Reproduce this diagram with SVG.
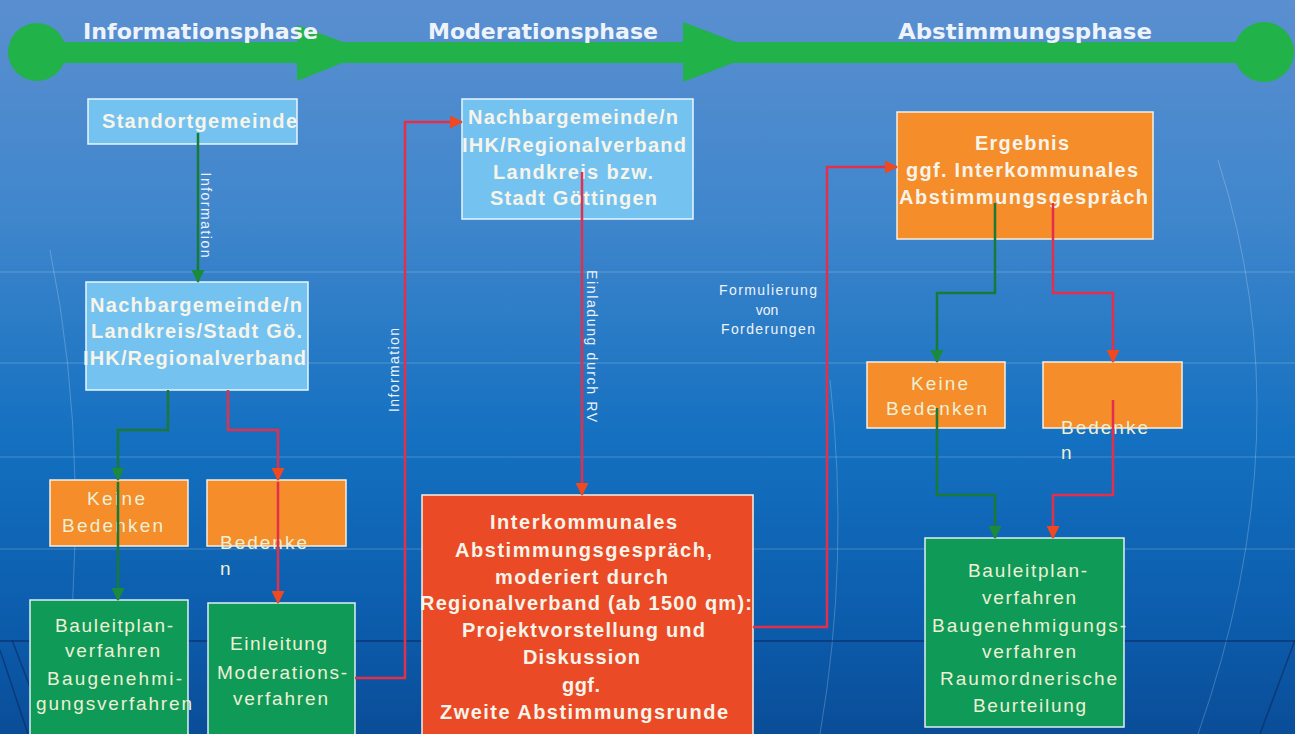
<svg xmlns="http://www.w3.org/2000/svg" width="1295" height="734" viewBox="0 0 1295 734">
<defs>
<linearGradient id="bg" x1="0" y1="0" x2="0" y2="1">
<stop offset="0" stop-color="#5a8fd0"/>
<stop offset="0.3" stop-color="#3f86cc"/>
<stop offset="0.6" stop-color="#1470c0"/>
<stop offset="0.85" stop-color="#0c5cac"/>
<stop offset="1" stop-color="#0a4d98"/>
</linearGradient>
<marker id="ag" viewBox="0 0 12 12" refX="11" refY="6" markerWidth="13" markerHeight="13" markerUnits="userSpaceOnUse" orient="auto">
<path d="M0,0 L12,6 L0,12 Z" fill="#1b8a3a"/>
</marker>
<marker id="ar" viewBox="0 0 12 12" refX="11" refY="6" markerWidth="13" markerHeight="13" markerUnits="userSpaceOnUse" orient="auto">
<path d="M0,0 L12,6 L0,12 Z" fill="#f0481f"/>
</marker>
</defs>
<style>
.phase{font-family:"DejaVu Sans",sans-serif;font-weight:bold;font-size:22px;fill:#eef3fa;text-anchor:middle}
.blue{fill:#74c2f0;stroke:#e8f6ff;stroke-width:1.5}
.orange{fill:#f48d2a;stroke:#f6efe2;stroke-width:1.5}
.red{fill:#ea4a25;stroke:#f6efe2;stroke-width:1.5}
.green{fill:#0f9a58;stroke:#e0f0f0;stroke-width:1.5}
.bt{font-family:"Liberation Sans",Arial,sans-serif;font-weight:bold;font-size:20px;fill:#f7f4ea;text-anchor:middle}
.nt{font-family:"Liberation Sans",Arial,sans-serif;font-size:19px;fill:#eef0d6;text-anchor:middle}
.nl{font-family:"Liberation Sans",Arial,sans-serif;font-size:19px;fill:#eef0d6}
.lab{font-family:"Liberation Sans",Arial,sans-serif;font-size:14px;fill:#eef3fa;text-anchor:middle}
.cg{fill:none;stroke:#187a36;stroke-width:2.5}
.cr{fill:none;stroke:#e2304c;stroke-width:2.5}
.grid{stroke:#ffffff;stroke-opacity:0.22;stroke-width:1;fill:none}
</style>
<rect width="1295" height="734" fill="url(#bg)"/>
<g id="backdrop">
<path class="grid" d="M0,272 H1295 M0,363 H1295 M0,457 H1295 M0,549 H1295"/>
<path class="grid" d="M1218,160 Q1305,430 1198,734"/>
<path class="grid" d="M50,250 Q95,470 60,734"/>
<path class="grid" d="M830,380 Q850,560 820,734"/>
<path d="M0,641 H1295" stroke="#0a2a62" stroke-opacity="0.7" stroke-width="1.5"/>
<path d="M0,650 L28,734 M12,640 L48,734" stroke="#0a2a62" stroke-opacity="0.6" stroke-width="1.5" fill="none"/>
<path d="M1295,640 L1260,734" stroke="#0a2a62" stroke-opacity="0.6" stroke-width="1.5" fill="none"/>
</g>
<g id="timeline">
<rect x="35" y="42" width="1230" height="21" fill="#22b24a"/>
<circle cx="37" cy="52" r="29" fill="#22b24a"/>
<circle cx="1264" cy="52" r="30" fill="#22b24a"/>
<polygon points="297,25 370,52 297,81" fill="#22b24a"/>
<polygon points="683,22 762,52 683,82" fill="#22b24a"/>
<text class="phase" x="200.5" y="39" textLength="235" lengthAdjust="spacingAndGlyphs">Informationsphase</text>
<text class="phase" x="543" y="39" textLength="230" lengthAdjust="spacingAndGlyphs">Moderationsphase</text>
<text class="phase" x="1025" y="39" textLength="254" lengthAdjust="spacingAndGlyphs">Abstimmungsphase</text>
</g>
<g id="n-standort">
<rect class="blue" x="88" y="99" width="209" height="45"/>
<text class="bt" x="199.5" y="128" textLength="195">Standortgemeinde</text>
</g>
<g id="n-nachbar1">
<rect class="blue" x="86" y="282" width="222" height="108"/>
<text class="bt" x="196" y="312" textLength="212">Nachbargemeinde/n</text>
<text class="bt" x="196.5" y="338" textLength="211">Landkreis/Stadt Gö.</text>
<text class="bt" x="194.5" y="365" textLength="223">IHK/Regionalverband</text>
</g>
<g id="n-keine1">
<rect class="orange" x="50" y="480" width="138" height="66"/>
<text class="nt" x="116" y="505" textLength="58">Keine</text>
<text class="nt" x="112.5" y="532" textLength="101">Bedenken</text>
</g>
<g id="n-bedenken1">
<rect class="orange" x="207" y="480" width="139" height="66"/>
<text class="nl" x="220" y="549" textLength="87">Bedenke</text>
<text class="nl" x="220" y="575">n</text>
</g>
<g id="n-bauleit1">
<rect class="green" x="30" y="600" width="158" height="140"/>
<text class="nt" x="114" y="632" textLength="118">Bauleitplan-</text>
<text class="nt" x="112.5" y="657" textLength="95">verfahren</text>
<text class="nt" x="114.5" y="685" textLength="135">Baugenehmi-</text>
<text class="nt" x="114" y="710" textLength="156">gungsverfahren</text>
</g>
<g id="n-einleitung">
<rect class="green" x="208" y="603" width="147" height="140"/>
<text class="nt" x="278.5" y="650" textLength="97">Einleitung</text>
<text class="nt" x="282" y="679" textLength="130">Moderations-</text>
<text class="nt" x="280.5" y="705" textLength="95">verfahren</text>
</g>
<g id="n-nachbar2">
<rect class="blue" x="462" y="99" width="231" height="120"/>
<text class="bt" x="573" y="124" textLength="210">Nachbargemeinde/n</text>
<text class="bt" x="574" y="152" textLength="224">IHK/Regionalverband</text>
<text class="bt" x="573" y="179" textLength="160">Landkreis bzw.</text>
<text class="bt" x="573.5" y="205" textLength="167">Stadt Göttingen</text>
</g>
<g id="n-gespraech">
<rect class="red" x="422" y="495" width="331" height="245"/>
<text class="bt" x="583.5" y="529" textLength="187">Interkommunales</text>
<text class="bt" x="583.5" y="557" textLength="257">Abstimmungsgespräch,</text>
<text class="bt" x="581.5" y="584" textLength="173">moderiert durch</text>
<text class="bt" x="586" y="610" textLength="332">Regionalverband (ab 1500 qm):</text>
<text class="bt" x="583.5" y="637" textLength="243">Projektvorstellung und</text>
<text class="bt" x="581.5" y="664" textLength="117">Diskussion</text>
<text class="bt" x="581" y="692" textLength="38">ggf.</text>
<text class="bt" x="584" y="719" textLength="288">Zweite Abstimmungsrunde</text>
</g>
<g id="n-ergebnis">
<rect class="orange" x="897" y="112" width="256" height="127"/>
<text class="bt" x="1022" y="150" textLength="94">Ergebnis</text>
<text class="bt" x="1022" y="177" textLength="232">ggf. Interkommunales</text>
<text class="bt" x="1023.5" y="204" textLength="249">Abstimmungsgespräch</text>
</g>
<g id="n-keine2">
<rect class="orange" x="867" y="362" width="138" height="66"/>
<text class="nt" x="939.5" y="390" textLength="57">Keine</text>
<text class="nt" x="936.5" y="415" textLength="101">Bedenken</text>
</g>
<g id="n-bedenken2">
<rect class="orange" x="1043" y="362" width="139" height="66"/>
<text class="nl" x="1061" y="434" textLength="87">Bedenke</text>
<text class="nl" x="1061" y="459">n</text>
</g>
<g id="n-bauleit2">
<rect class="green" x="925" y="538" width="199" height="189"/>
<text class="nt" x="1027.5" y="577" textLength="119">Bauleitplan-</text>
<text class="nt" x="1029" y="604" textLength="94">verfahren</text>
<text class="nt" x="1029" y="632" textLength="194">Baugenehmigungs-</text>
<text class="nt" x="1029" y="658" textLength="94">verfahren</text>
<text class="nt" x="1028.5" y="685" textLength="177">Raumordnerische</text>
<text class="nt" x="1029.5" y="712" textLength="113">Beurteilung</text>
</g>
<g id="connectors">
<path class="cg" d="M198,133 V282" marker-end="url(#ag)"/>
<path class="cg" d="M168,390 V430 H118 V480" marker-end="url(#ag)"/>
<path class="cr" d="M228,390 V430 H278 V480" marker-end="url(#ar)"/>
<path class="cg" d="M118,482 V600" marker-end="url(#ag)"/>
<path class="cr" d="M278,482 V603" marker-end="url(#ar)"/>
<path class="cr" d="M355,678 H405 V122 H462" marker-end="url(#ar)"/>
<path class="cr" d="M582,172 V495" marker-end="url(#ar)"/>
<path class="cr" d="M753,627 H827 V167 H897" marker-end="url(#ar)"/>
<path class="cg" d="M995,203 V293 H937 V362" marker-end="url(#ag)"/>
<path class="cr" d="M1053,203 V293 H1113 V362" marker-end="url(#ar)"/>
<path class="cg" d="M937,408 V495 H995 V538" marker-end="url(#ag)"/>
<path class="cr" d="M1113,400 V495 H1053 V538" marker-end="url(#ar)"/>
<text class="lab" transform="translate(201,215) rotate(90)" textLength="85">Information</text>
<text class="lab" transform="translate(399,370) rotate(-90)" textLength="84">Information</text>
<text class="lab" transform="translate(587,346) rotate(90)" textLength="152">Einladung durch RV</text>
<text class="lab" x="768" y="295" textLength="98">Formulierung</text>
<text class="lab" x="767" y="315">von</text>
<text class="lab" x="768" y="334" textLength="94">Forderungen</text>
</g>
</svg>
